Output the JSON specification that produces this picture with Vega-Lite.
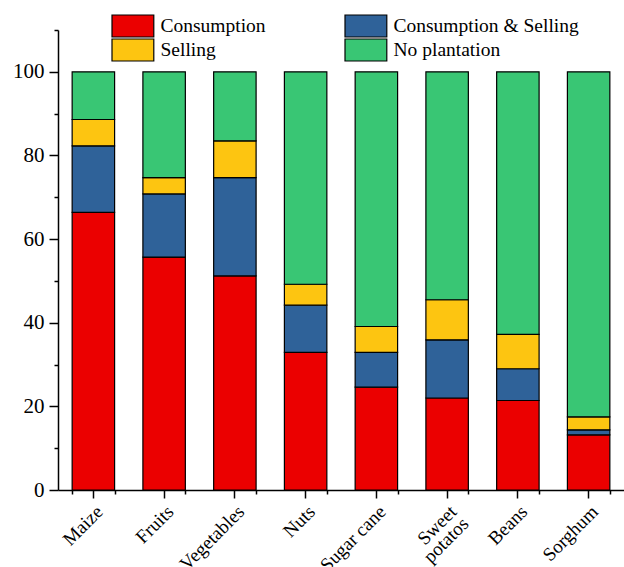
{
  "$schema": "https://vega.github.io/schema/vega-lite/v6.json",
  "width": 566,
  "height": 460,
  "autosize": {"type": "none"},
  "padding": {"left": 58, "top": 30, "right": 0, "bottom": 77},
  "config": {
    "font": "Liberation Serif, Times New Roman, serif",
    "view": {"stroke": null},
    "axis": {
      "domainColor": "black",
      "domainWidth": 1.5,
      "tickColor": "black",
      "tickWidth": 1.5,
      "labelColor": "black",
      "labelFont": "Liberation Serif, Times New Roman, serif",
      "labelFontSize": 19,
      "title": null,
      "grid": false
    },
    "legend": {
      "labelFont": "Liberation Serif, Times New Roman, serif"
    }
  },
  "data": {
    "values": [
      {"crop": "Maize", "use": "Consumption", "rank": 1, "pct": 66.4},
      {"crop": "Maize", "use": "Consumption & Selling", "rank": 2, "pct": 15.9},
      {"crop": "Maize", "use": "Selling", "rank": 3, "pct": 6.3},
      {"crop": "Maize", "use": "No plantation", "rank": 4, "pct": 11.4},
      {"crop": "Fruits", "use": "Consumption", "rank": 1, "pct": 55.7},
      {"crop": "Fruits", "use": "Consumption & Selling", "rank": 2, "pct": 15.1},
      {"crop": "Fruits", "use": "Selling", "rank": 3, "pct": 3.9},
      {"crop": "Fruits", "use": "No plantation", "rank": 4, "pct": 25.3},
      {"crop": "Vegetables", "use": "Consumption", "rank": 1, "pct": 51.2},
      {"crop": "Vegetables", "use": "Consumption & Selling", "rank": 2, "pct": 23.5},
      {"crop": "Vegetables", "use": "Selling", "rank": 3, "pct": 8.8},
      {"crop": "Vegetables", "use": "No plantation", "rank": 4, "pct": 16.5},
      {"crop": "Nuts", "use": "Consumption", "rank": 1, "pct": 32.9},
      {"crop": "Nuts", "use": "Consumption & Selling", "rank": 2, "pct": 11.3},
      {"crop": "Nuts", "use": "Selling", "rank": 3, "pct": 5.0},
      {"crop": "Nuts", "use": "No plantation", "rank": 4, "pct": 50.8},
      {"crop": "Sugar cane", "use": "Consumption", "rank": 1, "pct": 24.6},
      {"crop": "Sugar cane", "use": "Consumption & Selling", "rank": 2, "pct": 8.3},
      {"crop": "Sugar cane", "use": "Selling", "rank": 3, "pct": 6.2},
      {"crop": "Sugar cane", "use": "No plantation", "rank": 4, "pct": 60.9},
      {"crop": "Sweet potatos", "use": "Consumption", "rank": 1, "pct": 22.0},
      {"crop": "Sweet potatos", "use": "Consumption & Selling", "rank": 2, "pct": 13.9},
      {"crop": "Sweet potatos", "use": "Selling", "rank": 3, "pct": 9.6},
      {"crop": "Sweet potatos", "use": "No plantation", "rank": 4, "pct": 54.5},
      {"crop": "Beans", "use": "Consumption", "rank": 1, "pct": 21.4},
      {"crop": "Beans", "use": "Consumption & Selling", "rank": 2, "pct": 7.6},
      {"crop": "Beans", "use": "Selling", "rank": 3, "pct": 8.2},
      {"crop": "Beans", "use": "No plantation", "rank": 4, "pct": 62.8},
      {"crop": "Sorghum", "use": "Consumption", "rank": 1, "pct": 13.2},
      {"crop": "Sorghum", "use": "Consumption & Selling", "rank": 2, "pct": 1.2},
      {"crop": "Sorghum", "use": "Selling", "rank": 3, "pct": 3.1},
      {"crop": "Sorghum", "use": "No plantation", "rank": 4, "pct": 82.5}
    ]
  },
  "layer": [
    {
      "mark": {"type": "bar", "stroke": "black", "strokeWidth": 1.2},
      "encoding": {
        "x": {
          "field": "crop",
          "type": "nominal",
          "sort": null,
          "scale": {"paddingInner": 0.4, "paddingOuter": 0.2},
          "axis": {
            "orient": "bottom",
            "tickSize": 8,
            "labelAngle": -45,
            "labelPadding": 4,
            "labelLineHeight": 17,
            "labelExpr": "datum.value == 'Sweet potatos' ? ['Sweet', 'potatos'] : datum.label"
          }
        },
        "y": {
          "field": "pct",
          "type": "quantitative",
          "stack": "zero",
          "scale": {"domain": [0, 110], "nice": false},
          "axis": {"orient": "left", "values": [0, 20, 40, 60, 80, 100], "tickSize": 9, "labelPadding": 5, "labelFontSize": 21}
        },
        "color": {
          "field": "use",
          "type": "nominal",
          "scale": {
            "domain": ["Consumption", "Consumption & Selling", "Selling", "No plantation"],
            "range": ["#EB0000", "#2F6299", "#FDC511", "#39C674"]
          },
          "legend": {
            "title": null,
            "orient": "none",
            "legendX": 53,
            "legendY": -16,
            "direction": "horizontal",
            "columns": 2,
            "columnPadding": 78,
            "rowPadding": 0,
            "clipHeight": 24,
            "symbolType": "M-1,-1H2.8V1H-1Z",
            "symbolSize": 484,
            "symbolStrokeColor": "black",
            "symbolStrokeWidth": 1.2,
            "symbolOpacity": 1,
            "labelFontSize": 19.5,
            "labelColor": "black",
            "labelLimit": 400,
            "labelOffset": 25.5
          }
        },
        "order": {"field": "rank"}
      }
    },
    {
      "mark": {"type": "bar", "opacity": 0},
      "encoding": {
        "x": {
          "field": "crop",
          "type": "nominal",
          "sort": null,
          "axis": {"orient": "bottom", "tickBand": "extent", "tickSize": 4, "labels": false, "domain": false}
        },
        "y": {
          "field": "pct",
          "type": "quantitative",
          "axis": {"orient": "left", "values": [10, 30, 50, 70, 90, 110], "tickSize": 4, "labels": false, "domain": false}
        }
      }
    }
  ],
  "resolve": {"axis": {"x": "independent", "y": "independent"}}
}
